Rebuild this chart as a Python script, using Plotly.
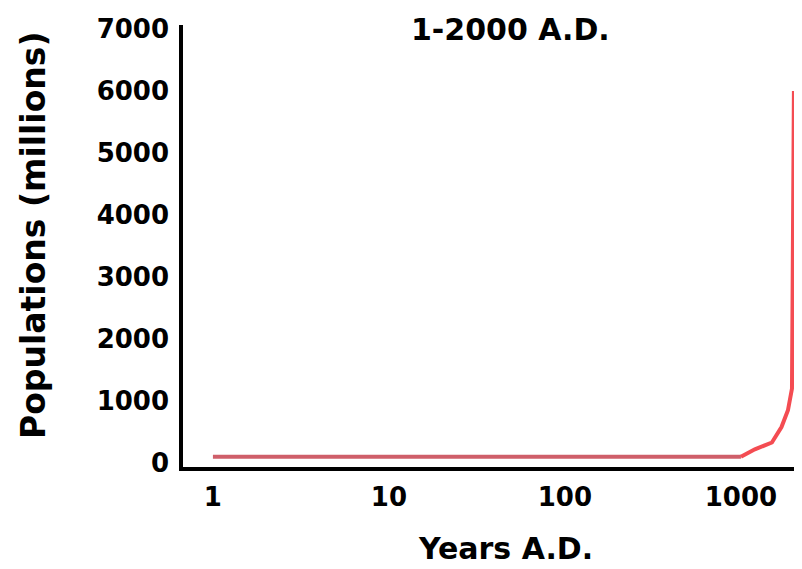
import plotly.graph_objects as go

# Data
years = [1, 1000, 1200, 1500, 1700, 1850, 1950, 2000]
population = [100, 100, 220, 330, 580, 850, 1200, 6000]

x_tick_vals = [1, 10, 100, 1000]
x_tick_text = ["1", "10", "100", "1000"]
y_tick_vals = [0, 1000, 2000, 3000, 4000, 5000, 6000, 7000]

FONT = "DejaVu Sans"

# The page body has an 8px margin, so the figure is drawn 8px in from the top-left.
OFF = 8
W, H = 802 - OFF, 569 - OFF
L, T, B = 183 - OFF, 25 - OFF, 569 - 467
PW, PH = W - L, H - T - B

def px_x(px):
    return (px - 183) / PW

def px_y(py):
    return 1 - (py - 25) / PH

split = 1
fig = go.Figure()
fig.add_trace(go.Scatter(
    x=years[:split + 1], y=population[:split + 1], mode="lines",
    line=dict(color="#cf5f6a", width=4), showlegend=False, hoverinfo="skip"))
fig.add_trace(go.Scatter(
    x=years[split:], y=population[split:], mode="lines",
    line=dict(color="#f44c52", width=4),
    showlegend=False))

fig.update_layout(
    width=W, height=H,
    margin=dict(l=L, r=0, t=T, b=B),
    paper_bgcolor="white", plot_bgcolor="white",
    font=dict(family=FONT, color="black"),
    showlegend=False,
)
fig.update_xaxes(
    type="log", range=[-0.170, 3.347],
    tickvals=x_tick_vals, ticktext=x_tick_text,
    showgrid=False, zeroline=False,
    showline=True, linecolor="black", linewidth=3.5,
    ticks="", ticklabelstandoff=4,
    tickfont=dict(family=FONT, size=26, color="black", weight="bold"),
)
fig.update_yaxes(
    range=[-65, 7065],
    tickvals=y_tick_vals,
    showgrid=False, zeroline=False,
    showline=True, linecolor="black", linewidth=3.5,
    ticks="", ticklabelstandoff=5,
    tickfont=dict(family=FONT, size=26, color="black", weight="bold"),
)

fig.add_annotation(
    text="<b>1-2000 A.D.</b>", xref="paper", yref="paper",
    x=px_x(510), y=px_y(30),
    xanchor="center", yanchor="middle", showarrow=False,
    font=dict(family=FONT, size=30, color="black"))
fig.add_annotation(
    text="<b>Years A.D.</b>", xref="paper", yref="paper",
    x=px_x(505), y=px_y(548),
    xanchor="center", yanchor="middle", showarrow=False,
    font=dict(family=FONT, size=30, color="black"))
fig.add_annotation(
    text="<b>Populations (millions)</b>", xref="paper", yref="paper",
    x=px_x(33), y=px_y(235),
    xanchor="center", yanchor="middle", showarrow=False, textangle=-90,
    font=dict(family=FONT, size=33, color="black"))

fig.write_html("out.html")
